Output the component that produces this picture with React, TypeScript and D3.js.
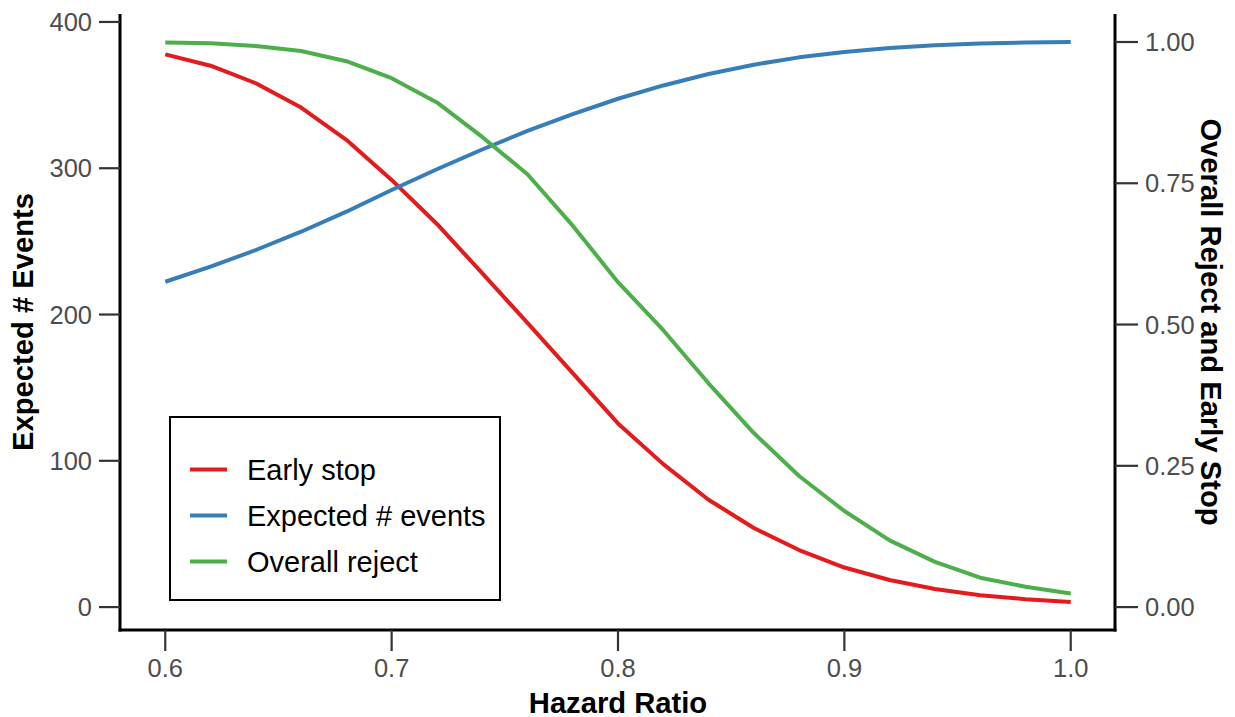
import React from "react";
import * as d3 from "d3";

const hazardRatio = [0.6, 0.62, 0.64, 0.66, 0.68, 0.7, 0.72, 0.74, 0.76, 0.78, 0.8, 0.82, 0.84, 0.86, 0.88, 0.9, 0.92, 0.94, 0.96, 0.98, 1.0];
const expectedEvents = [222.4, 232.7, 244.1, 256.6, 270.3, 285.1, 299.3, 312.8, 325.5, 337.0, 347.5, 356.6, 364.4, 370.8, 375.8, 379.5, 382.2, 384.0, 385.2, 385.9, 386.3];
const earlyStop = [0.978, 0.958, 0.927, 0.884, 0.827, 0.756, 0.678, 0.591, 0.503, 0.414, 0.325, 0.253, 0.19, 0.14, 0.101, 0.07, 0.048, 0.032, 0.021, 0.014, 0.009];
const overallReject = [0.999, 0.998, 0.993, 0.984, 0.966, 0.936, 0.893, 0.832, 0.766, 0.675, 0.575, 0.49, 0.396, 0.308, 0.232, 0.17, 0.118, 0.08, 0.052, 0.036, 0.024];

const xTicks = [0.6, 0.7, 0.8, 0.9, 1.0];
const leftTicks = [0, 100, 200, 300, 400];
const rightTicks = [0, 0.25, 0.5, 0.75, 1.0];

const legendLabels = ["Early stop", "Expected # events", "Overall reject"];
const colors = ["#E41A1C", "#377EB8", "#4DAF4A"];

const FONT = "'Liberation Sans', Arial, Helvetica, sans-serif";

export default function App() {
  const W = 1235;
  const H = 717;
  const left = 120;
  const right = 1116;
  const top = 14;
  const bottom = 630;

  const scaleFactor = d3.max(expectedEvents) as number;
  const allLeft = [
    ...expectedEvents,
    ...earlyStop.map((v) => v * scaleFactor),
    ...overallReject.map((v) => v * scaleFactor),
  ];
  const [yMin, yMax] = d3.extent(allLeft) as [number, number];
  const yPad = (yMax - yMin) * 0.05;
  const y = d3.scaleLinear().domain([yMin - yPad, yMax + yPad]).range([bottom, top]);
  const [xMin, xMax] = d3.extent(hazardRatio) as [number, number];
  const xPad = (xMax - xMin) * 0.05;
  const x = d3.scaleLinear().domain([xMin - xPad, xMax + xPad]).range([left, right]);

  const line = d3
    .line<[number, number]>()
    .x((d) => x(d[0]))
    .y((d) => y(d[1]));

  const series = [
    hazardRatio.map((h, i) => [h, earlyStop[i] * scaleFactor] as [number, number]),
    hazardRatio.map((h, i) => [h, expectedEvents[i]] as [number, number]),
    hazardRatio.map((h, i) => [h, overallReject[i] * scaleFactor] as [number, number]),
  ];

  const tickLen = 21;
  const tickColor = "#333333";
  const labelColor = "#4D4D4D";
  const tickFont = 25.5;
  const titleFont = 29.2;

  const legX = 170;
  const legY = 417;
  const legW = 330;
  const legH = 183;
  const legRowY = [469.5, 515.5, 561.5];

  return (
    <svg
      width={W}
      height={H}
      style={{ position: "absolute", left: 0, top: 0, display: "block", background: "#fff" }}
      fontFamily={FONT}
    >
      <rect x={0} y={0} width={W} height={H} fill="#fff" />
      {series.map((s, i) => (
        <path
          key={i}
          d={line(s) as string}
          fill="none"
          stroke={colors[i]}
          strokeWidth={4}
          strokeLinejoin="round"
          strokeLinecap="butt"
        />
      ))}

      <line x1={left} x2={left} y1={top} y2={bottom + 1.5} stroke="#000" strokeWidth={3} />
      <line x1={right - 1} x2={right - 1} y1={top} y2={bottom + 1.5} stroke="#000" strokeWidth={3} />
      <line x1={left - 1.5} x2={right + 0.5} y1={bottom} y2={bottom} stroke="#000" strokeWidth={3} />

      {leftTicks.map((t) => (
        <g key={"l" + t}>
          <line x1={left - tickLen} x2={left} y1={y(t)} y2={y(t)} stroke={tickColor} strokeWidth={2.2} />
          <text
            x={left - tickLen - 7}
            y={y(t)}
            textAnchor="end"
            dominantBaseline="central"
            fontSize={tickFont}
            fill={labelColor}
          >
            {t}
          </text>
        </g>
      ))}

      {rightTicks.map((t) => (
        <g key={"r" + t}>
          <line x1={right - 1} x2={right - 1 + tickLen + 2} y1={y(t * scaleFactor)} y2={y(t * scaleFactor)} stroke={tickColor} strokeWidth={2.2} />
          <text
            x={right + tickLen + 8}
            y={y(t * scaleFactor)}
            textAnchor="start"
            dominantBaseline="central"
            fontSize={tickFont}
            fill={labelColor}
          >
            {t.toFixed(2)}
          </text>
        </g>
      ))}

      {xTicks.map((t) => (
        <g key={"x" + t}>
          <line x1={x(t)} x2={x(t)} y1={bottom} y2={bottom + tickLen} stroke={tickColor} strokeWidth={2.2} />
          <text x={x(t)} y={bottom + 47} textAnchor="middle" fontSize={tickFont} fill={labelColor}>
            {t.toFixed(1)}
          </text>
        </g>
      ))}

      <text x={(left + right) / 2} y={712.5} textAnchor="middle" fontSize={titleFont} fontWeight="bold" fill="#000">
        Hazard Ratio
      </text>
      <text
        transform={`translate(32.5, ${(top + bottom) / 2}) rotate(-90)`}
        textAnchor="middle"
        fontSize={titleFont}
        fontWeight="bold"
        fill="#000"
      >
        Expected # Events
      </text>
      <text
        transform={`translate(1201, ${(top + bottom) / 2}) rotate(90)`}
        textAnchor="middle"
        fontSize={titleFont}
        fontWeight="bold"
        fill="#000"
      >
        Overall Reject and Early Stop
      </text>

      <rect x={legX} y={legY} width={legW} height={legH} fill="#fff" stroke="#000" strokeWidth={2} />
      {legendLabels.map((lab, i) => (
        <g key={lab}>
          <line x1={190} x2={227} y1={legRowY[i]} y2={legRowY[i]} stroke={colors[i]} strokeWidth={4} />
          <text x={247} y={legRowY[i] + 10.3} fontSize={29} fill="#000">
            {lab}
          </text>
        </g>
      ))}
    </svg>
  );
}
